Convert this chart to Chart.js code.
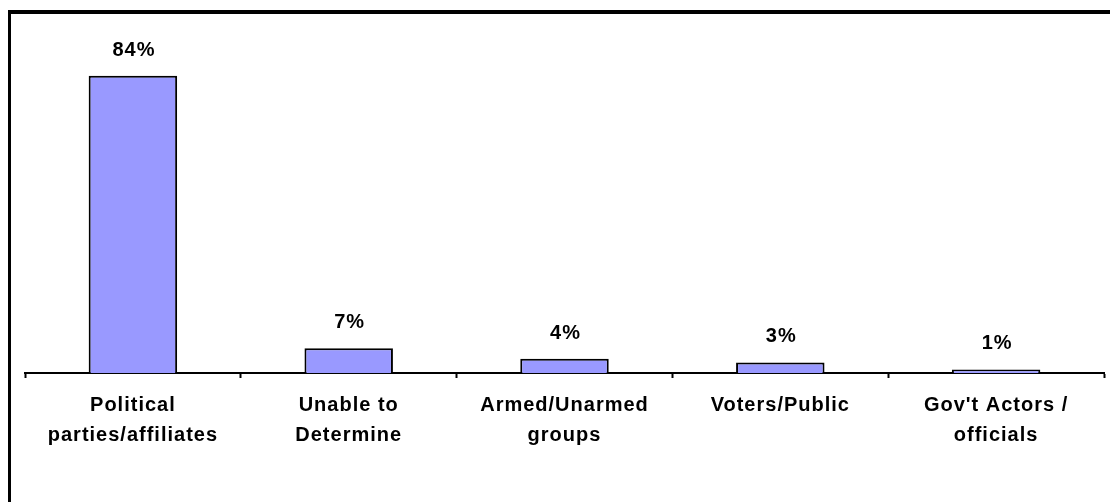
<!DOCTYPE html>
<html>
<head>
  <meta charset="UTF-8">
  <title>Perpetrators</title>
  <script src="https://cdn.jsdelivr.net/npm/chart.js"></script>
  <style>
    html, body { margin: 0; padding: 0; background: #fff; overflow: hidden; }
    .frame {
      position: absolute;
      left: 8px;
      top: 10px;
      width: 1099px;
      height: 488px;
      border-left: 3px solid #000;
      border-top: 4px solid #000;
    }
    .frame canvas { display: block; }
  </style>
</head>
<body>
  <div class="frame">
    <canvas id="chart" width="1099" height="488"></canvas>
  </div>

  <script>
    // categories and shares (%)
    var categories = [
      ["Political", "parties/affiliates"],
      ["Unable to", "Determine"],
      ["Armed/Unarmed", "groups"],
      ["Voters/Public"],
      ["Gov't Actors /", "officials"]
    ];
    var shares = [84, 7, 4, 3, 1];

    // draws the "84%" style labels above each bar
    var valueLabels = {
      id: "valueLabels",
      afterDatasetsDraw: function (chart) {
        var ctx = chart.ctx;
        var meta = chart.getDatasetMeta(0);
        ctx.save();
        ctx.font = "bold 20px Arial, 'Liberation Sans', sans-serif";
        ctx.letterSpacing = "1px";
        ctx.fillStyle = "#000";
        ctx.textAlign = "center";
        ctx.textBaseline = "alphabetic";
        meta.data.forEach(function (bar, i) {
          ctx.fillText(shares[i] + "%", bar.x + 1, bar.y - 20);
        });
        ctx.restore();
      }
    };

    // a little extra spacing for the axis text
    var spacing = {
      id: "spacing",
      beforeDraw: function (chart) { chart.ctx.letterSpacing = "1px"; }
    };

    var ctx = document.getElementById("chart").getContext("2d");
    var chart = new Chart(ctx, {
      type: "bar",
      data: {
        labels: categories,
        datasets: [{
          data: shares,
          backgroundColor: "#9999FF",
          borderColor: "#000",
          borderWidth: 2,
          categoryPercentage: 1,
          barPercentage: 0.41
        }]
      },
      options: {
        responsive: false,
        animation: false,
        layout: { padding: { left: 14, right: 6, top: 5, bottom: 40 } },
        plugins: {
          legend: { display: false },
          tooltip: { enabled: false }
        },
        scales: {
          x: {
            grid: {
              display: true,
              drawOnChartArea: false,
              drawTicks: true,
              tickLength: 5,
              tickWidth: 2,
              tickColor: "#000"
            },
            border: { display: true, color: "#000", width: 2 },
            ticks: {
              color: "#000",
              autoSkip: false,
              maxRotation: 0,
              padding: 12,
              font: { family: "Arial, 'Liberation Sans', sans-serif", size: 20, weight: "bold", lineHeight: 1.5 }
            }
          },
          y: {
            display: false,
            min: 0,
            max: 100
          }
        }
      },
      plugins: [spacing, valueLabels]
    });
  </script>
</body>
</html>
